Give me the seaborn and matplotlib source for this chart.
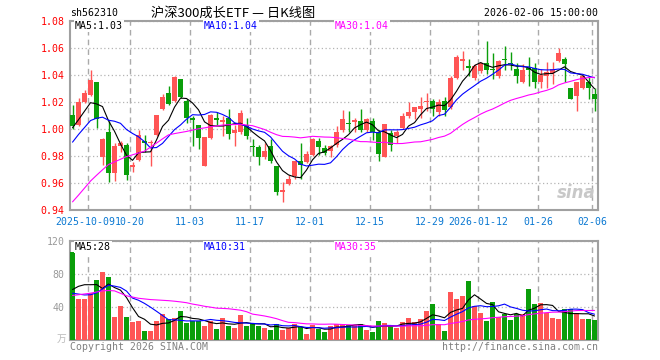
import numpy as np
import pandas as pd
import matplotlib
matplotlib.use("Agg")
import matplotlib.pyplot as plt
import matplotlib.transforms as mtransforms
import seaborn as sns

# daily candles, 2025-09-26 .. 2026-02-06 (88 trading days)
open_ = [1.0100, 1.0030, 1.0200, 1.0250, 1.0345, 0.9790, 0.9975, 0.9675, 0.9875, 0.9880,
         0.9715, 0.9770, 0.9910, 0.9895, 0.9955, 1.0150, 1.0265, 1.0210, 1.0370, 1.0210,
         1.0080, 1.0030, 0.9725, 0.9935, 1.0075, 1.0055, 1.0085, 0.9970, 0.9975, 1.0030,
         0.9870, 0.9870, 0.9790, 0.9875, 0.9725, 0.9535, 0.9595, 0.9650, 0.9760, 0.9755,
         0.9805, 0.9910, 0.9860, 0.9835, 0.9880, 0.9995, 1.0045, 1.0050, 1.0060, 0.9995,
         1.0060, 0.9975, 0.9790, 0.9970, 0.9945, 1.0010, 1.0095, 1.0125, 1.0145, 1.0200,
         1.0210, 1.0125, 1.0210, 1.0160, 1.0380, 1.0505, 1.0470, 1.0380, 1.0430, 1.0490,
         1.0445, 1.0390, 1.0520, 1.0490, 1.0445, 1.0350, 1.0450, 1.0455, 1.0345, 1.0395,
         1.0415, 1.0505, 1.0520, 1.0305, 1.0245, 1.0305, 1.0350, 1.0260]
high = [1.0180, 1.0230, 1.0290, 1.0440, 1.0345, 0.9935, 1.0060, 0.9895, 0.9910, 0.9895,
        0.9755, 0.9990, 0.9955, 0.9920, 1.0105, 1.0260, 1.0315, 1.0395, 1.0370, 1.0220,
        1.0100, 1.0030, 0.9940, 1.0110, 1.0125, 1.0100, 1.0145, 1.0030, 1.0140, 1.0080,
        0.9925, 0.9880, 0.9900, 0.9925, 0.9725, 0.9610, 0.9660, 0.9765, 0.9895, 0.9840,
        0.9935, 0.9930, 0.9885, 0.9880, 1.0025, 1.0140, 1.0130, 1.0080, 1.0145, 1.0085,
        1.0085, 0.9990, 1.0040, 0.9990, 0.9990, 1.0120, 1.0200, 1.0165, 1.0235, 1.0265,
        1.0225, 1.0220, 1.0235, 1.0390, 1.0550, 1.0580, 1.0515, 1.0480, 1.0495, 1.0650,
        1.0565, 1.0510, 1.0615, 1.0570, 1.0490, 1.0480, 1.0530, 1.0490, 1.0445, 1.0495,
        1.0495, 1.0600, 1.0535, 1.0305, 1.0345, 1.0395, 1.0395, 1.0305]
low = [1.0000, 1.0020, 1.0195, 1.0245, 1.0010, 0.9730, 0.9610, 0.9615, 0.9830, 0.9625,
       0.9685, 0.9760, 0.9830, 0.9725, 0.9950, 1.0140, 1.0175, 1.0200, 1.0230, 1.0045,
       0.9875, 0.9850, 0.9725, 0.9925, 1.0030, 0.9950, 0.9925, 0.9875, 0.9965, 0.9925,
       0.9800, 0.9730, 0.9780, 0.9750, 0.9510, 0.9460, 0.9585, 0.9630, 0.9630, 0.9745,
       0.9800, 0.9810, 0.9810, 0.9790, 0.9870, 0.9980, 0.9975, 0.9975, 0.9975, 0.9975,
       0.9915, 0.9765, 0.9790, 0.9840, 0.9895, 1.0000, 1.0085, 1.0075, 1.0080, 1.0135,
       1.0100, 1.0100, 1.0100, 1.0150, 1.0370, 1.0440, 1.0390, 1.0365, 1.0415, 1.0405,
       1.0370, 1.0380, 1.0440, 1.0440, 1.0340, 1.0340, 1.0320, 1.0305, 1.0305, 1.0305,
       1.0330, 1.0495, 1.0345, 1.0220, 1.0135, 1.0295, 1.0225, 1.0135]
close = [1.0025, 1.0200, 1.0265, 1.0365, 1.0075, 0.9925, 0.9675, 0.9875, 0.9895, 0.9660,
         0.9735, 0.9955, 0.9900, 0.9905, 1.0100, 1.0235, 1.0185, 1.0385, 1.0240, 1.0085,
         1.0070, 0.9930, 0.9940, 1.0100, 1.0070, 1.0070, 0.9965, 0.9990, 1.0120, 0.9950,
         0.9865, 0.9790, 0.9835, 0.9760, 0.9530, 0.9545, 0.9630, 0.9760, 0.9730, 0.9815,
         0.9925, 0.9865, 0.9820, 0.9875, 0.9980, 1.0075, 1.0040, 1.0070, 0.9995, 1.0075,
         0.9975, 0.9815, 1.0035, 0.9880, 0.9975, 1.0095, 1.0125, 1.0160, 1.0170, 1.0210,
         1.0145, 1.0200, 1.0140, 1.0380, 1.0535, 1.0515, 1.0450, 1.0470, 1.0490, 1.0440,
         1.0435, 1.0505, 1.0510, 1.0480, 1.0395, 1.0440, 1.0440, 1.0350, 1.0400, 1.0420,
         1.0445, 1.0560, 1.0480, 1.0225, 1.0345, 1.0390, 1.0305, 1.0225]
volume = [106.7, 49.7, 49.7, 57.0, 73.0, 82.8, 76.8, 28.3, 41.2, 27.9,
          21.8, 23.4, 11.3, 11.3, 23.4, 31.5, 25.9, 26.7, 35.1, 20.6,
          22.6, 22.6, 17.0, 23.4, 13.7, 26.7, 17.0, 14.5, 30.3, 17.0,
          19.4, 17.0, 14.5, 12.1, 19.4, 12.1, 14.5, 19.4, 16.2, 7.3,
          18.6, 13.7, 9.7, 17.0, 19.4, 19.4, 17.8, 17.8, 19.4, 12.1,
          9.7, 23.0, 20.6, 17.0, 14.5, 21.8, 26.7, 21.8, 25.5, 35.1,
          43.6, 19.4, 10.9, 58.2, 49.7, 53.3, 71.5, 41.2, 32.7, 23.0,
          46.1, 27.9, 31.5, 24.2, 31.5, 31.5, 61.8, 43.6, 44.8, 32.7,
          26.7, 25.5, 37.6, 37.6, 32.7, 25.5, 25.5, 24.2]

# sessions before the window, only needed so the moving averages start right
prev_close = [0.870, 0.870, 0.880, 0.880, 0.870, 0.850, 0.930, 0.930, 0.906, 0.935,
              0.955, 0.950, 0.900, 0.920, 0.930, 0.930, 1.010, 1.000, 0.985, 0.977,
              0.963, 0.975, 0.985, 0.990, 0.985, 0.990, 0.995, 1.005, 1.012]
prev_volume = [20, 22, 28, 31, 41, 65, 40, 131, 118, 67,
               68, 35, 35, 36, 45, 39, 47, 60, 50, 72,
               60, 60, 55, 50, 36, 30, 40, 57, 72]

tick_index = [3, 10, 20, 30, 40, 50, 60, 68, 78, 87]
tick_labels = ["2025-10-09", "10-20", "11-03", "11-17", "12-01",
               "12-15", "12-29", "2026-01-12", "01-26", "02-06"]
price_ticks = [0.94, 0.96, 0.98, 1.00, 1.02, 1.04, 1.06, 1.08]
volume_ticks = [40, 80, 120]

RED = "#ff5555"
GREEN = "#0a9e0a"
MONO = "DejaVu Sans Mono"
FS = 7.1

sns.set_style("white")
plt.rcParams["font.family"] = [MONO, "Noto Sans CJK SC"]

n = len(close)
x = np.arange(n)
o = np.array(open_)
c = np.array(close)
colors = np.where(c >= o, RED, GREEN)

all_close = pd.Series(prev_close + close)
all_vol = pd.Series(prev_volume + volume)
ma = {k: all_close.rolling(k).mean().to_numpy()[-n:] for k in (5, 10, 30)}
vma = {k: all_vol.rolling(k).mean().to_numpy()[-n:] for k in (5, 10, 30)}
ma_colors = {5: "black", 10: "#0000ff", 30: "#ff00ff"}

W, H = 660, 360
fig = plt.figure(figsize=(6.6, 3.6), dpi=100)
ax = fig.add_axes([70 / W, 1 - 210 / H, 528 / W, 189 / H])
axv = fig.add_axes([70 / W, 1 - 340 / H, 528 / W, 99 / H])

# candles
ax.vlines(x, low, high, colors=colors, lw=1, zorder=3)
body_low = np.minimum(o, c)
body_h = np.maximum(np.abs(c - o), 0.0008)
ax.bar(x, body_h, bottom=body_low, width=0.82, color=colors, lw=0, zorder=4)
for k in (5, 10, 30):
    sns.lineplot(x=x, y=ma[k], ax=ax, color=ma_colors[k], lw=0.8, zorder=5)

# volume
axv.bar(x, volume, width=0.82, color=colors, lw=0, zorder=3)
for k in (5, 10, 30):
    sns.lineplot(x=x, y=vma[k], ax=axv, color=ma_colors[k], lw=0.8, zorder=5)

grid_x = np.array(tick_index) - 0.42
for a in (ax, axv):
    a.set_xlim(-0.42, n - 0.42)
    a.set_xticks(grid_x)
    a.grid(axis="x", color="#aaaaaa", ls=(0, (4, 3)), lw=1)
    a.grid(axis="y", color="#b4b4b4", ls=(0, (1, 2)), lw=0.9)
    a.tick_params(length=0, pad=4)
    for s in a.spines.values():
        s.set_color("#a0a0a0")
        s.set_linewidth(1.5)
    a.set_axisbelow(True)

ax.set_ylim(0.94, 1.08)
ax.set_yticks(price_ticks)
ax.set_yticklabels([f"{p:.2f}" for p in price_ticks], color="#ff0000",
                   fontsize=FS, family=MONO)
ax.set_xticklabels(tick_labels, color="#0a78d2", fontsize=FS, family=MONO)
ax.tick_params(axis="x", pad=5)
# the first date label sits a little left of its grid line, as on the source
first = ax.get_xticklabels()[0]
first.set_transform(first.get_transform() +
                    mtransforms.ScaledTranslation(-3 / 100, 0, fig.dpi_scale_trans))

axv.set_ylim(0, 120)
axv.set_yticks(volume_ticks)
axv.set_yticklabels([str(v) for v in volume_ticks], color="#999999",
                    fontsize=FS, family=MONO)
axv.set_xticklabels([])


def ftext(px, py, s, **kw):
    fig.text(px / W, 1 - py / H, s, va="center", **kw)


label_box = dict(facecolor="white", edgecolor="none", pad=0.6)

ftext(70, 13, "sh562310", fontsize=FS, color="black")
ftext(233, 13, "沪深300成长ETF — 日K线图", fontsize=9.5, ha="center",
      color="black", family=["Noto Sans CJK SC", MONO])
ftext(598, 13, "2026-02-06 15:00:00", fontsize=FS, ha="right", color="black")

ftext(75, 26, "MA5:1.03", fontsize=FS, color="black", bbox=label_box)
ftext(204, 26, "MA10:1.04", fontsize=FS, color="#0000ff", bbox=label_box)
ftext(335, 26, "MA30:1.04", fontsize=FS, color="#ff00ff", bbox=label_box)

ftext(75, 247, "MA5:28", fontsize=FS, color="black", bbox=label_box)
ftext(204, 247, "MA10:31", fontsize=FS, color="#0000ff", bbox=label_box)
ftext(335, 247, "MA30:35", fontsize=FS, color="#ff00ff", bbox=label_box)

ftext(66, 339, "万", fontsize=7, ha="right", color="#bbbbbb",
      family=["Noto Sans CJK SC"])
ftext(70, 347, "Copyright 2026 SINA.COM", fontsize=FS, color="#808080")
ftext(598, 347, "http://finance.sina.com.cn", fontsize=FS, ha="right",
      color="#808080")

ax.text(0.995, 0.04, "sina", transform=ax.transAxes, ha="right", va="bottom",
        fontsize=12, fontweight="bold", fontstyle="italic", color="#c8c8c8",
        family="DejaVu Sans", zorder=2)

fig.savefig("out.png", dpi=100)
